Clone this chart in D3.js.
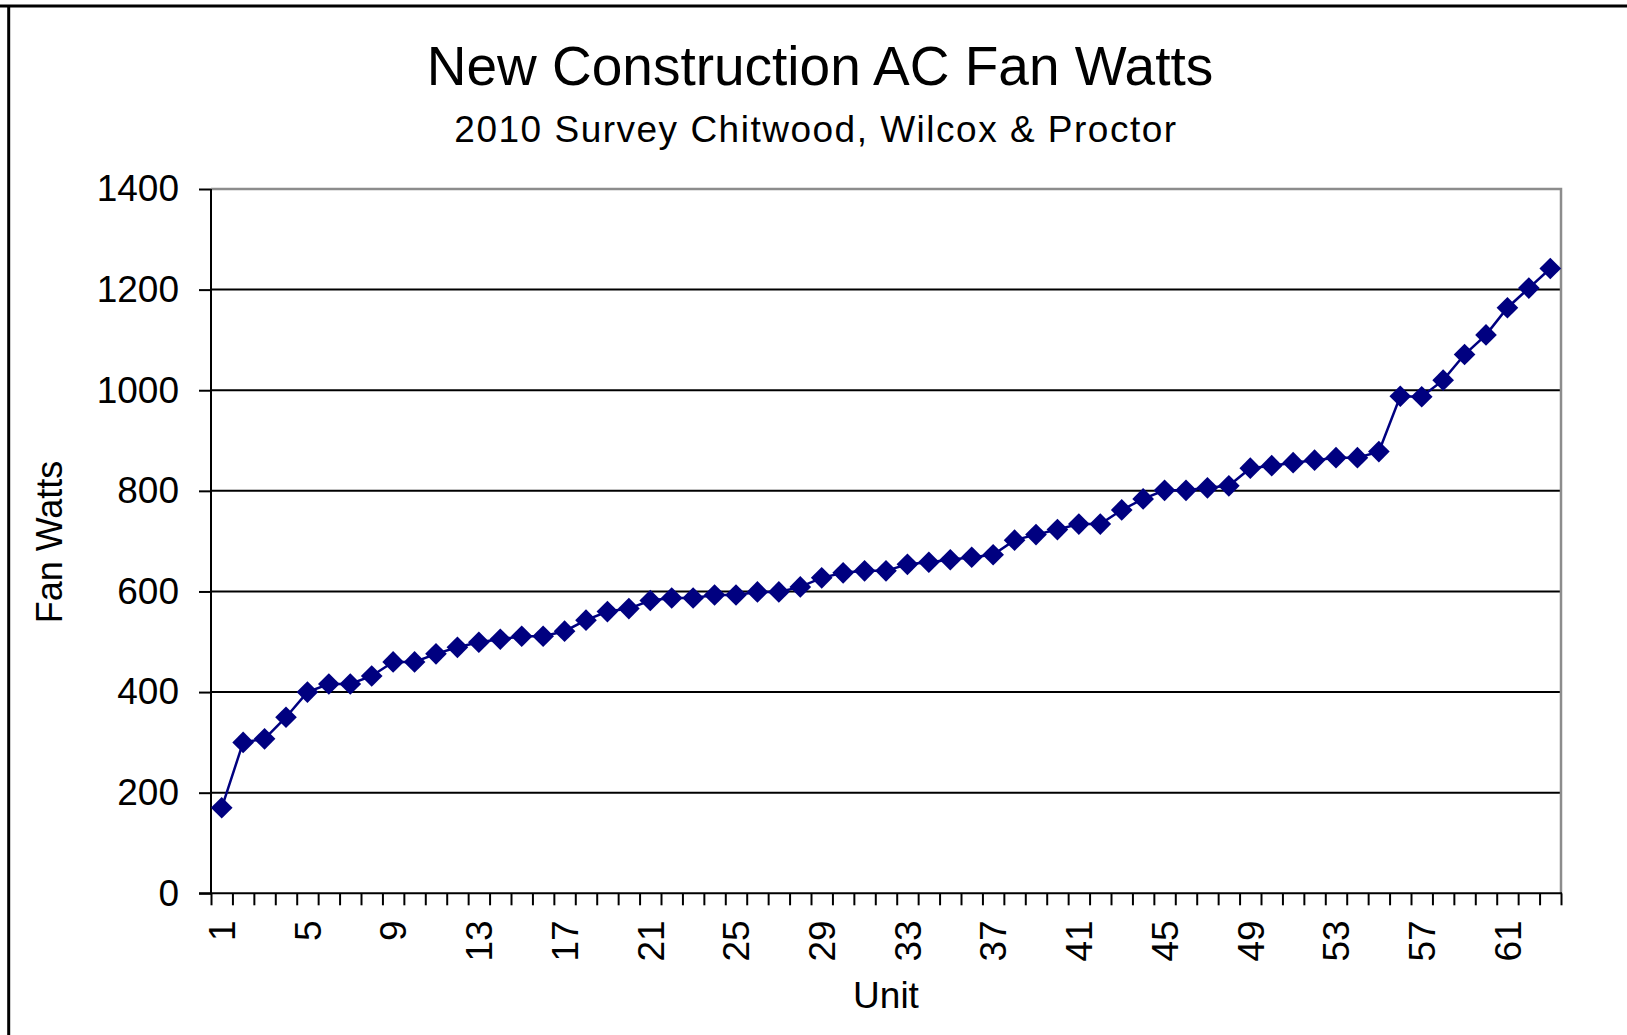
<!DOCTYPE html>
<html>
<head>
<meta charset="utf-8">
<script src="https://cdn.jsdelivr.net/npm/d3@7"></script>
<style>
	body { margin: 0; background: #fff; }
	svg { display: block; font-family: "Liberation Sans", Arial, sans-serif; }
</style>
</head>
<body>
<div id="forSvg"></div>
<script>
// chart data
var units = d3.range(1, 64);
var fanWatts = [170, 300, 307, 350, 400, 416, 416, 432, 460, 460,
	476, 489, 499, 505, 511, 511, 521, 543, 560, 566,
	582, 587, 587, 593, 593, 599, 599, 609, 627, 637,
	641, 641, 654, 658, 663, 668, 673, 702, 713, 723,
	734, 734, 762, 784, 801, 801, 806, 810, 845, 850,
	856, 861, 866, 866, 878, 988, 987, 1020, 1071, 1110,
	1164, 1203, 1242];
var yTicks = [0, 200, 400, 600, 800, 1000, 1200, 1400];
var xLabels = [1, 5, 9, 13, 17, 21, 25, 29, 33, 37, 41, 45, 49, 53, 57, 61];

var title = "New Construction AC Fan Watts";
var subtitle = "2010 Survey Chitwood, Wilcox & Proctor";

var W = 1627, H = 1035;
var plotLeft = 211, plotRight = 1561, plotTop = 189, plotBottom = 893.3;

var chart = d3.select("#forSvg").append("svg")
	.attr("width", W)
	.attr("height", H);

// outer frame lines
chart.append("line").attr("x1", 0).attr("x2", W).attr("y1", 6).attr("y2", 6)
	.attr("stroke", "#000").attr("stroke-width", 3);
chart.append("line").attr("x1", 8.7).attr("x2", 8.7).attr("y1", 5).attr("y2", H)
	.attr("stroke", "#000").attr("stroke-width", 3);

var x = d3.scaleBand().domain(units).range([plotLeft, plotRight]);
var xEdge = d3.scaleLinear().domain([0, units.length]).range([plotLeft, plotRight]);
var y = d3.scaleLinear().domain([0, 1400]).range([plotBottom, plotTop]);

// gridlines
chart.append("g").selectAll("line")
	.data(yTicks.filter(function(d) { return d > 0 && d < 1400; }))
	.enter().append("line")
	.attr("x1", plotLeft).attr("x2", plotRight)
	.attr("y1", function(d) { return y(d); })
	.attr("y2", function(d) { return y(d); })
	.attr("stroke", "#000")
	.attr("stroke-width", 2);

// gray top / right plot border
chart.append("path")
	.attr("d", "M" + plotLeft + "," + y(1400) + "H" + plotRight + "V" + plotBottom)
	.attr("fill", "none")
	.attr("stroke", "#8c8c8c")
	.attr("stroke-width", 2.5);

// y axis
var yAxis = chart.append("g")
	.attr("transform", "translate(" + plotLeft + ",0)")
	.call(d3.axisLeft(y).tickValues(yTicks).tickFormat(d3.format("d")).tickSize(12).tickPadding(20));
yAxis.select(".domain").remove();
yAxis.selectAll(".tick line").attr("stroke", "#000").attr("stroke-width", 2);
yAxis.selectAll(".tick text")
	.attr("font-size", 37)
	.attr("fill", "#000")
	.attr("font-family", "Liberation Sans, Arial, sans-serif");

chart.append("line")
	.attr("x1", plotLeft).attr("x2", plotLeft)
	.attr("y1", y(1400)).attr("y2", plotBottom + 1)
	.attr("stroke", "#000").attr("stroke-width", 2);

// x axis: tick marks between categories
var xTickAxis = chart.append("g")
	.attr("transform", "translate(0," + plotBottom + ")")
	.call(d3.axisBottom(xEdge).tickValues(d3.range(0, units.length + 1)).tickSize(12).tickFormat(""));
xTickAxis.select(".domain").remove();
xTickAxis.selectAll(".tick line").attr("stroke", "#000").attr("stroke-width", 2);

chart.append("line")
	.attr("x1", plotLeft - 12).attr("x2", plotRight + 1)
	.attr("y1", plotBottom).attr("y2", plotBottom)
	.attr("stroke", "#000").attr("stroke-width", 2);

// x axis labels, rotated
var xLabelAxis = chart.append("g")
	.attr("transform", "translate(0," + plotBottom + ")")
	.call(d3.axisBottom(x).tickValues(xLabels).tickSize(0));
xLabelAxis.select(".domain").remove();
xLabelAxis.selectAll(".tick text")
	.attr("font-size", 37)
	.attr("fill", "#000")
	.attr("font-family", "Liberation Sans, Arial, sans-serif")
	.attr("transform", "rotate(-90)")
	.attr("text-anchor", "end")
	.attr("x", -27)
	.attr("y", 0)
	.attr("dy", "0.36em");

// series line and markers
var line = d3.line()
	.x(function(d, i) { return x(units[i]) + x.bandwidth() / 2; })
	.y(function(d) { return y(d); });

chart.append("path")
	.datum(fanWatts)
	.attr("d", line)
	.attr("fill", "none")
	.attr("stroke", "#000080")
	.attr("stroke-width", 2.5);

chart.append("g").selectAll("path")
	.data(fanWatts)
	.enter().append("path")
	.attr("d", d3.symbol(d3.symbolSquare, 235))
	.attr("transform", function(d, i) {
		return "translate(" + (x(units[i]) + x.bandwidth() / 2) + "," + y(d) + ") rotate(45)";
	})
	.attr("fill", "#000080");

// titles
chart.append("text")
	.attr("x", 820).attr("y", 85)
	.attr("text-anchor", "middle")
	.attr("font-size", 55)
	.text(title);

chart.append("text")
	.attr("x", 816).attr("y", 142)
	.attr("text-anchor", "middle")
	.attr("font-size", 37)
	.attr("letter-spacing", 1.5)
	.text(subtitle);

chart.append("text")
	.attr("transform", "translate(62,542) rotate(-90)")
	.attr("text-anchor", "middle")
	.attr("font-size", 36)
	.text("Fan Watts");

chart.append("text")
	.attr("x", (plotLeft + plotRight) / 2).attr("y", 1008)
	.attr("text-anchor", "middle")
	.attr("font-size", 37)
	.text("Unit");
</script>
</body>
</html>
